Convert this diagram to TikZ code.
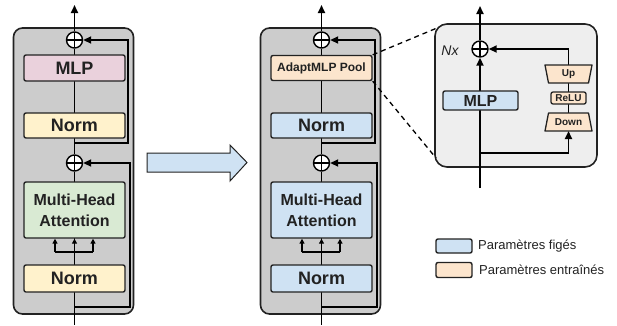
\documentclass[tikz,border=0pt]{standalone}
\usepackage{fontspec}
\setmainfont{Liberation Sans}
\usetikzlibrary{arrows.meta}
\definecolor{blockgray}{HTML}{CCCCCC}
\definecolor{insetgray}{HTML}{EEEEEE}
\definecolor{pinkfill}{HTML}{EAD1DC}
\definecolor{yellowfill}{HTML}{FFF2CC}
\definecolor{greenfill}{HTML}{D9EAD3}
\definecolor{bluefill}{HTML}{CFE2F3}
\definecolor{orangefill}{HTML}{FCE5CD}
\definecolor{edge}{HTML}{222222}
\tikzset{
  block/.style={draw=edge, line width=1.6pt, fill=blockgray, rounded corners=9pt},
  box/.style={draw=edge, line width=1.4pt, rounded corners=2pt, inner sep=0pt, text=edge, font=\bfseries\fontsize{18}{20}\selectfont},
  plus/.style={circle, draw=black, fill=white, line width=1.4pt, minimum size=16pt, inner sep=0pt,
    path picture={\draw[line width=1.6pt] (path picture bounding box.north) -- (path picture bounding box.south)
      (path picture bounding box.west) -- (path picture bounding box.east);}},
  wire/.style={line width=1.8pt, draw=black},
  arr/.style={wire, -{Triangle[length=8pt,width=7pt]}},
  smallarr/.style={line width=1.5pt, draw=black, -{Triangle[length=5pt,width=5pt]}},
  trapbox/.style={draw=edge, line width=1.3pt, fill=orangefill, line join=round},
  traptext/.style={inner sep=0pt, text=edge, font=\bfseries\fontsize{10}{11}\selectfont},
  dashline/.style={line width=1.3pt, dash pattern=on 5pt off 4pt}
}
\begin{document}
\begin{tikzpicture}[x=1pt,y=-1pt]
\useasboundingbox (0,0) rectangle (617,325);
% ===== left block =====
\draw[block] (13.5,28) rectangle (133.5,314);
\node[plus] (p1) at (74.5,40) {};
\node[plus] (p2) at (74.5,163) {};
\coordinate (t1) at (74.5,5);
\coordinate (b1) at (74.5,325);
\coordinate (ra1) at (74.5,143);
\coordinate (rb1) at (128,143);
\coordinate (rc1) at (128,40);
\coordinate (ra2) at (74.5,307);
\coordinate (rb2) at (130,307);
\coordinate (rc2) at (130,163);
\coordinate (fa) at (74.5,252);
\coordinate (fl) at (55,252);
\coordinate (fr) at (93,252);
\draw[arr] (p1.north) -- (t1);
\draw[wire] (p1.south) -- (p2.north);
\draw[wire] (p2.south) -- (b1);
\draw[arr] (ra1) -- (rb1) -- (rc1) -- (p1.east);
\draw[arr] (ra2) -- (rb2) -- (rc2) -- (p2.east);
\node[box, fill=pinkfill, minimum width=101pt, minimum height=26pt] (mlp1) at (74.5,68) {MLP};
\node[box, fill=yellowfill, minimum width=101pt, minimum height=25pt] (norm1) at (74.5,125.5) {Norm};
\node[box, fill=greenfill, minimum width=101pt, minimum height=56pt, align=center, font=\bfseries\fontsize{16}{21}\selectfont] (mha1) at (74.5,210) {Multi-Head\\Attention};
\node[box, fill=yellowfill, minimum width=101pt, minimum height=27pt] (norm2) at (74.5,278.5) {Norm};
\draw[line width=1.5pt] (fl) -- (fr);
\draw[smallarr] (fl) -- (fl |- mha1.south);
\draw[smallarr] (fa) -- (mha1.south);
\draw[smallarr] (fr) -- (fr |- mha1.south);
% ===== big arrow =====
\draw[draw=edge, line width=1pt, fill=bluefill] (147,153) -- (230,153) -- (230,145) -- (247,162.5) -- (230,181) -- (230,172) -- (147,172) -- cycle;
% ===== middle block =====
\draw[block] (260.5,28) rectangle (380.5,314);
\node[plus] (p1b) at (321.5,40) {};
\node[plus] (p2b) at (321.5,163) {};
\coordinate (t1b) at (321.5,5);
\coordinate (b1b) at (321.5,325);
\coordinate (ra1b) at (321.5,143);
\coordinate (rb1b) at (375,143);
\coordinate (rc1b) at (375,40);
\coordinate (ra2b) at (321.5,307);
\coordinate (rb2b) at (377,307);
\coordinate (rc2b) at (377,163);
\coordinate (fab) at (321.5,252);
\coordinate (flb) at (302,252);
\coordinate (frb) at (340,252);
\draw[arr] (p1b.north) -- (t1b);
\draw[wire] (p1b.south) -- (p2b.north);
\draw[wire] (p2b.south) -- (b1b);
\draw[arr] (ra1b) -- (rb1b) -- (rc1b) -- (p1b.east);
\draw[arr] (ra2b) -- (rb2b) -- (rc2b) -- (p2b.east);
\node[box, fill=orangefill, minimum width=101pt, minimum height=25pt, font=\bfseries\fontsize{12}{14}\selectfont] (adapt) at (321.5,68) {AdaptMLP Pool};
\node[box, fill=bluefill, minimum width=101pt, minimum height=25pt] (norm1b) at (321.5,125.5) {Norm};
\node[box, fill=bluefill, minimum width=101pt, minimum height=56pt, align=center, font=\bfseries\fontsize{16}{21}\selectfont] (mha1b) at (321.5,210) {Multi-Head\\Attention};
\node[box, fill=bluefill, minimum width=101pt, minimum height=27pt] (norm2b) at (321.5,278.5) {Norm};
\draw[line width=1.5pt] (flb) -- (frb);
\draw[smallarr] (flb) -- (flb |- mha1b.south);
\draw[smallarr] (fab) -- (mha1b.south);
\draw[smallarr] (frb) -- (frb |- mha1b.south);
% ===== inset =====
\draw[draw=edge, line width=1.6pt, fill=insetgray, rounded corners=12pt] (435,24) rectangle (597,167);
\coordinate (itl) at (437,28);
\coordinate (ibl) at (436,158);
\draw[dashline] (adapt.north east) -- (itl);
\draw[dashline] (adapt.south east) -- (ibl);
\node[plus] (p3) at (480,49) {};
\node[text=edge, font=\itshape\fontsize{14}{16}\selectfont, inner sep=0pt] (nx) at (450,51) {Nx};
\coordinate (it) at (480,6);
\coordinate (ib) at (480,188);
\coordinate (bra) at (480,153);
\coordinate (brb) at (568.5,153);
\coordinate (brc) at (568.5,49);
\draw[arr] (p3.north) -- (it);
\draw[arr] (ib) -- (p3.south);
\node[box, fill=bluefill, minimum width=75pt, minimum height=19pt, font=\bfseries\fontsize{16}{18}\selectfont] (mlp3) at (480.5,100.5) {MLP};
% Up / ReLU / Down
\coordinate (upn) at (568.5,65);
\coordinate (ups) at (568.5,83);
\coordinate (downn) at (568.5,113);
\coordinate (downs) at (568.5,131);
\draw[arr] (bra) -- (brb) -- (downs);
\draw[wire] (downn) -- (ups);
\draw[arr] (upn) -- (brc) -- (p3.east);
\draw[trapbox] (545,65) -- (592,65) -- (588.5,83) -- (548.5,83) -- cycle;
\node[traptext] (up) at (568.5,74) {Up};
\node[box, fill=orangefill, minimum width=35pt, minimum height=12pt, line width=1.3pt, font=\bfseries\fontsize{10}{11}\selectfont] (relu) at (568.5,98) {ReLU};
\draw[trapbox] (548.5,113) -- (588.5,113) -- (592,131) -- (545,131) -- cycle;
\node[traptext] (down) at (568.5,122) {Down};
% ===== legend =====
\node[box, fill=bluefill, minimum width=36pt, minimum height=14pt] (lg1) at (454,246) {};
\node[box, fill=orangefill, minimum width=36pt, minimum height=15pt] (lg2) at (454,270) {};
\node[anchor=west, inner sep=0pt, font=\fontsize{13}{15}\selectfont, text=edge] (lt1) at (478,246) {Paramètres figés};
\node[anchor=west, inner sep=0pt, font=\fontsize{13}{15}\selectfont, text=edge] (lt2) at (479,270) {Paramètres entraînés};
\end{tikzpicture}
\end{document}
